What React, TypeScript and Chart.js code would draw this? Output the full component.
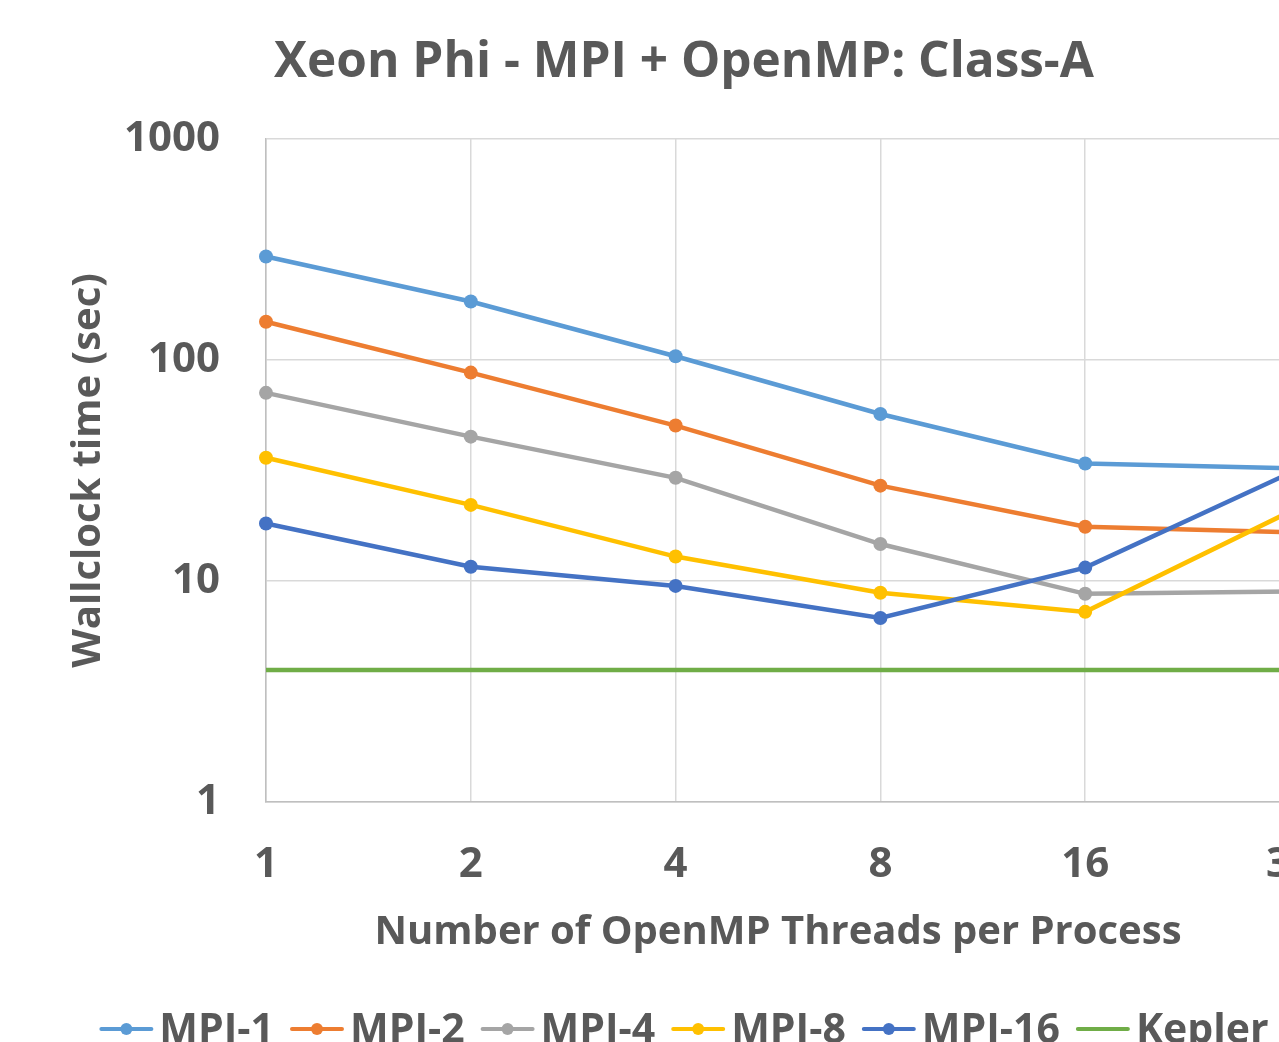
import React, { useEffect, useRef } from "react";
import { Chart, registerables } from "chart.js";

Chart.register(...registerables);

const categories = ["1", "2", "4", "8", "16", "32"];
const mpi1 = [294, 184, 104, 57, 34, 32.4];
const mpi2 = [149, 87.7, 50.5, 27, 17.6, 16.6];
const mpi4 = [71, 45, 29.3, 14.7, 8.75, 8.97];
const mpi8 = [36.1, 22.1, 12.9, 8.85, 7.25, 20.6];
const mpi16 = [18.2, 11.6, 9.5, 6.8, 11.5, 30.8];
const kepler = [3.96, 3.96, 3.96, 3.96, 3.96, 3.96];
const yTicks = [1, 10, 100, 1000];

const titleText = "Xeon Phi - MPI + OpenMP: Class-A";
const seriesNames = ["MPI-1", "MPI-2", "MPI-4", "MPI-8", "MPI-16", "Kepler"];
const seriesColors = ["#5B9BD5", "#ED7D31", "#A5A5A5", "#FFC000", "#4472C4", "#70AD47"];
const seriesValues = [mpi1, mpi2, mpi4, mpi8, mpi16, kepler];

const TEXT = "#595959";
const FONT = "'Open Sans', 'Noto Sans', sans-serif";
const W = 1368;
const H = 1080;

const titleAndLegendPlugin = {
  id: "titleAndLegend",
  afterDraw(chart: any) {
    const ctx = chart.ctx;
    ctx.save();
    // title
    ctx.font = `bold 49.5px ${FONT}`;
    ctx.fillStyle = TEXT;
    ctx.textAlign = "center";
    ctx.textBaseline = "alphabetic";
    ctx.fillText(titleText, chart.width / 2, 77);

    // legend
    ctx.font = `bold 41px ${FONT}`;
    const lineW = 54;
    const gap1 = 6;
    const gap2 = 16;
    const items = chart.data.datasets.map((ds: any) => ({
      label: ds.label,
      color: ds.borderColor,
      dot: ds.pointRadius > 0,
      tw: ctx.measureText(ds.label).width,
    }));
    let total = 0;
    items.forEach((it: any, i: number) => {
      total += lineW + gap1 + it.tw + (i < items.length - 1 ? gap2 : 0);
    });
    let x = (chart.width - total) / 2;
    const baseline = 1043;
    const ly = 1029;
    items.forEach((it: any) => {
      ctx.strokeStyle = it.color;
      ctx.lineWidth = 4;
      ctx.lineCap = "round";
      ctx.beginPath();
      ctx.moveTo(x + 2, ly);
      ctx.lineTo(x + lineW - 2, ly);
      ctx.stroke();
      if (it.dot) {
        ctx.fillStyle = it.color;
        ctx.beginPath();
        ctx.arc(x + lineW / 2, ly, 6, 0, Math.PI * 2);
        ctx.fill();
      }
      x += lineW + gap1;
      ctx.fillStyle = TEXT;
      ctx.textAlign = "left";
      ctx.fillText(it.label, x, baseline);
      x += it.tw + gap2;
    });
    ctx.restore();
  },
};

export default function App() {
  const ref = useRef<HTMLCanvasElement | null>(null);

  useEffect(() => {
    document.body.style.margin = "0";
    document.body.style.overflow = "hidden";
    const canvas = ref.current;
    if (!canvas) return;
    const datasets = seriesNames.map((name, i) => ({
      label: name,
      data: seriesValues[i],
      borderColor: seriesColors[i],
      backgroundColor: seriesColors[i],
      borderWidth: 4.5,
      pointRadius: name === "Kepler" ? 0 : 7,
      pointHoverRadius: name === "Kepler" ? 0 : 7,
      pointBorderWidth: 0,
      tension: 0,
      fill: false,
      clip: false as any,
      order: seriesNames.length - i,
    }));
    const chart = new Chart(canvas, {
      type: "line",
      data: { labels: categories, datasets },
      plugins: [titleAndLegendPlugin],
      options: {
        responsive: false,
        animation: false,
        devicePixelRatio: 1,
        layout: { padding: { left: 0, right: 78, top: 139, bottom: H - 802 - 160 } },
        plugins: {
          legend: { display: false },
          tooltip: { enabled: false },
          title: { display: false },
        },
        scales: {
          x: {
            type: "category",
            offset: false,
            afterFit: (s: any) => {
              s.height = 160;
            },
            grid: { color: "#d9d9d9", lineWidth: 1.5, drawTicks: false },
            border: { color: "#bfbfbf", width: 1.5 },
            ticks: {
              color: TEXT,
              padding: 38,
              font: { family: FONT, size: 42, weight: "bold", lineHeight: 1.2 },
              maxRotation: 0,
              autoSkip: false,
            },
            title: {
              display: true,
              text: "Number of OpenMP Threads per Process",
              color: TEXT,
              font: { family: FONT, size: 40, weight: "bold", lineHeight: 1.2 },
              padding: { top: 0, bottom: 5 },
            },
          },
          y: {
            type: "logarithmic",
            min: 1,
            max: 1000,
            afterFit: (s: any) => {
              s.width = 266;
            },
            afterBuildTicks: (s: any) => {
              s.ticks = yTicks.map((v) => ({ value: v }));
            },
            grid: { color: "#d9d9d9", lineWidth: 1.5, drawTicks: false },
            border: { color: "#bfbfbf", width: 1.5 },
            ticks: {
              color: TEXT,
              padding: 46,
              font: { family: FONT, size: 42, weight: "bold", lineHeight: 1.2 },
              callback: (v: any) => String(v),
            },
            title: {
              display: true,
              text: "Wallclock time (sec)",
              color: TEXT,
              font: { family: FONT, size: 40, weight: "bold", lineHeight: 1.2 },
              padding: { top: 65, bottom: 0 },
            },
          },
        },
      },
    });
    return () => chart.destroy();
  }, []);

  return (
    <div
      style={{
        position: "fixed",
        left: 0,
        top: 0,
        width: 1279,
        height: 1042,
        overflow: "hidden",
        background: "#ffffff",
      }}
    >
      <canvas ref={ref} width={W} height={H} style={{ width: W, height: H, display: "block" }} />
    </div>
  );
}
